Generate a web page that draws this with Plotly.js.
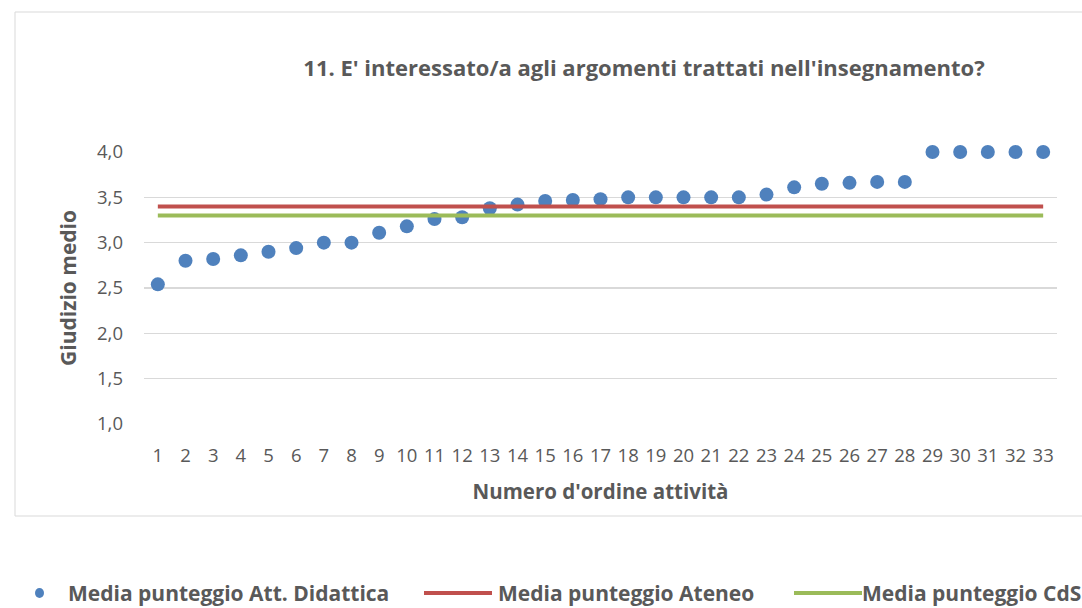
<!DOCTYPE html>
<html>
<head>
<meta charset="utf-8">
<script src="https://cdn.plot.ly/plotly-3.0.1.min.js"></script>
<style>
html,body{margin:0;padding:0;background:#fff;overflow:hidden}
#chart{width:1082px;height:608px}
</style>
</head>
<body>
<div id="chart"></div>
<script>
// ---- data ----
const categories = [1,2,3,4,5,6,7,8,9,10,11,12,13,14,15,16,17,18,19,20,21,22,23,24,25,26,27,28,29,30,31,32,33];
const mediaAttDidattica = [2.54,2.80,2.82,2.86,2.90,2.94,3.00,3.00,3.11,3.18,3.26,3.28,3.38,3.42,3.46,3.47,3.48,3.50,3.50,3.50,3.50,3.50,3.53,3.61,3.65,3.66,3.67,3.67,4.00,4.00,4.00,4.00,4.00];
const mediaAteneo = 3.40;
const mediaCdS = 3.30;
const yTickVals = [1.0,1.5,2.0,2.5,3.0,3.5,4.0];
const seriesNames = ["Media punteggio Att. Didattica", "Media punteggio Ateneo", "Media punteggio CdS"];
const chartTitle = "11. E' interessato/a agli argomenti trattati nell'insegnamento?";
const xTitle = "Numero d'ordine attività";
const yTitle = "Giudizio medio";

// ---- style ----
const W = 1082, H = 608;
const M = {l:144, r:25, t:152, b:184};
const FONT = "'Open Sans', 'Noto Sans', sans-serif";
const TXT = "#595959";
const BLUE = "#4F81BD", RED = "#C0504D", GREEN = "#9BBB59";
const plotW = W - M.l - M.r, plotH = H - M.t - M.b;
const px = x => (x - M.l) / plotW;           // pixel -> paper x
const py = y => (H - M.b - y) / plotH;        // pixel -> paper y

const xFirst = categories[0], xLast = categories[categories.length - 1];

const traces = [
  {type:'scatter', mode:'markers', name:seriesNames[0], x:categories, y:mediaAttDidattica,
   marker:{color:BLUE, size:14}, cliponaxis:false, showlegend:false},
  {type:'scatter', mode:'lines', name:seriesNames[1], x:[xFirst, xLast], y:[mediaAteneo, mediaAteneo],
   line:{color:RED, width:4}, cliponaxis:false, showlegend:false},
  {type:'scatter', mode:'lines', name:seriesNames[2], x:[xFirst, xLast], y:[mediaCdS, mediaCdS],
   line:{color:GREEN, width:4}, cliponaxis:false, showlegend:false}
];

// custom legend (below the chart box)
const legY = 593;
const legFont = {family:FONT, size:21, color:TXT, weight:'bold'};
const annotations = [
  {text:seriesNames[0], x:px(66), y:py(legY)},
  {text:seriesNames[1], x:px(496), y:py(legY)},
  {text:seriesNames[2], x:px(860), y:py(legY)}
].map(a => Object.assign(a, {xref:'paper', yref:'paper', xanchor:'left', yanchor:'middle',
  showarrow:false, font:legFont}));

const shapes = [
  // chart box border
  {type:'rect', xref:'paper', yref:'paper', x0:px(15), x1:px(1100), y0:py(516), y1:py(12),
   line:{color:'#D9D9D9', width:1}, fillcolor:'rgba(0,0,0,0)', layer:'below'},
  // legend symbols
  {type:'circle', xref:'paper', yref:'paper', x0:px(35), x1:px(44), y0:py(legY+5), y1:py(legY-5),
   fillcolor:BLUE, line:{width:0}},
  {type:'line', xref:'paper', yref:'paper', x0:px(424), x1:px(492), y0:py(legY), y1:py(legY),
   line:{color:RED, width:4}},
  {type:'line', xref:'paper', yref:'paper', x0:px(794), x1:px(862), y0:py(legY), y1:py(legY),
   line:{color:GREEN, width:4}}
];

const layout = {
  width:W, height:H,
  margin:{l:M.l, r:M.r, t:M.t, b:M.b, autoexpand:false},
  paper_bgcolor:'#fff', plot_bgcolor:'#fff',
  separators:',.',
  font:{family:FONT, color:TXT},
  showlegend:false,
  title:{text:chartTitle, font:{family:FONT, size:22, weight:'bold', color:TXT},
    xref:'container', x:644/W, xanchor:'center', yref:'container', y:1-68/H, yanchor:'middle'},
  xaxis:{range:[0.5, 33.5], tickmode:'array', tickvals:categories, ticktext:categories.map(String),
    showgrid:false, zeroline:false, showline:false, ticks:'', ticklabelstandoff:18,
    tickfont:{family:FONT, size:18.5, color:TXT},
    title:{text:xTitle, font:{family:FONT, size:20.5, weight:'bold', color:TXT}, standoff:19}},
  yaxis:{range:[1, 4], tickmode:'array', tickvals:yTickVals, tickformat:'.1f',
    showgrid:true, gridcolor:'#D9D9D9', gridwidth:1.5, zeroline:false, showline:false, ticks:'',
    ticklabelstandoff:20, tickfont:{family:FONT, size:18.5, color:TXT},
    title:{text:yTitle, font:{family:FONT, size:21, weight:'bold', color:TXT}, standoff:14}},
  annotations:annotations,
  shapes:shapes
};

Plotly.newPlot('chart', traces, layout, {displayModeBar:false, staticPlot:true});
</script>
</body>
</html>
